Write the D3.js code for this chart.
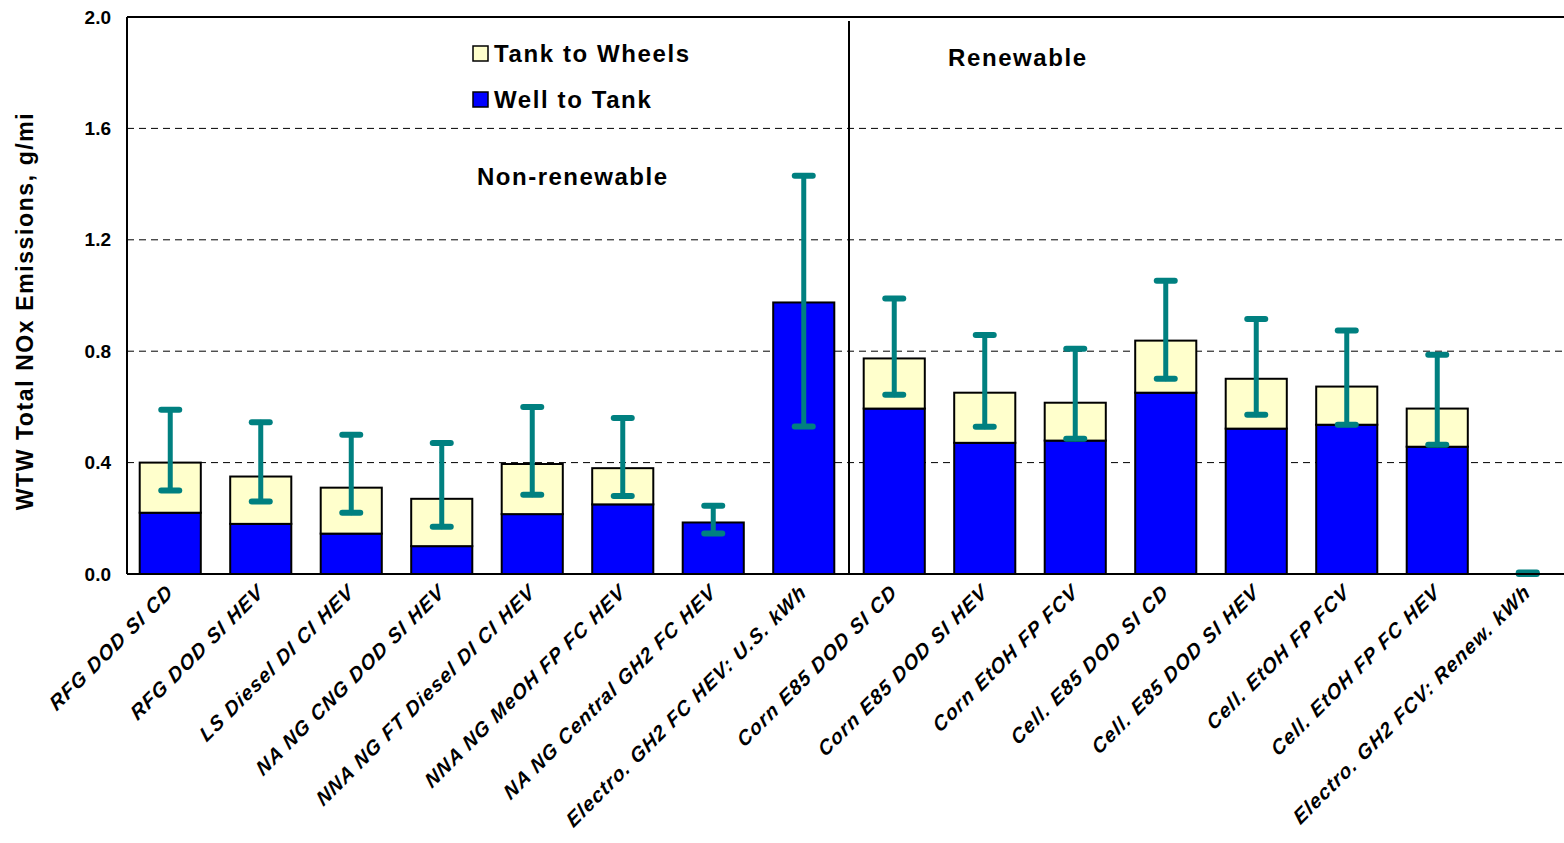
<!DOCTYPE html>
<html>
<head>
<meta charset="utf-8">
<script src="https://cdn.jsdelivr.net/npm/d3@7"></script>
<style>
  html, body { margin: 0; padding: 0; background: #fff; }
  svg { display: block; }
  text { font-family: "Liberation Sans", Arial, sans-serif; font-weight: bold; fill: #000; }
</style>
</head>
<body>
<svg id="chart" width="1564" height="843"></svg>
<script>
const categories = [
  "RFG DOD SI CD", "RFG DOD SI HEV", "LS Diesel DI CI HEV", "NA NG CNG DOD SI HEV",
  "NNA NG FT Diesel DI CI HEV", "NNA NG MeOH FP FC HEV", "NA NG Central GH2 FC HEV",
  "Electro. GH2 FC HEV: U.S. kWh", "Corn E85 DOD SI CD", "Corn E85 DOD SI HEV",
  "Corn EtOH FP FCV", "Cell. E85 DOD SI CD", "Cell. E85 DOD SI HEV", "Cell. EtOH FP FCV",
  "Cell. EtOH FP FC HEV", "Electro. GH2 FCV: Renew. kWh"
];
const wellToTank   = [0.22, 0.18, 0.145, 0.10, 0.215, 0.25, 0.185, 0.975, 0.594, 0.471, 0.479, 0.651, 0.522, 0.536, 0.457, 0.0];
const tankToWheels = [0.18, 0.17, 0.165, 0.17, 0.18, 0.13, 0.0, 0.0, 0.180, 0.180, 0.136, 0.187, 0.179, 0.137, 0.137, 0.0];
const errorLow     = [0.30, 0.26, 0.22, 0.17, 0.285, 0.28, 0.145, 0.53, 0.644, 0.529, 0.486, 0.701, 0.572, 0.536, 0.464, 0.0];
const errorHigh    = [0.59, 0.545, 0.50, 0.47, 0.60, 0.56, 0.245, 1.43, 0.989, 0.858, 0.809, 1.053, 0.916, 0.874, 0.787, 0.005];
const yTicks = [0.0, 0.4, 0.8, 1.2, 1.6, 2.0];
const seriesNames = ["Tank to Wheels", "Well to Tank"];
const groupLabels = ["Non-renewable", "Renewable"];

const svg = d3.select("#chart");
const plotLeft = 127, plotTop = 17, plotBottom = 574;

const x = d3.scaleBand().domain(categories).range([125, 1573]).padding(0);
const y = d3.scaleLinear().domain([0, 2.0]).range([plotBottom, plotTop]);
const barW = x.bandwidth() * 0.675;

// grid lines
svg.append("g").selectAll("line").data(yTicks.filter(t => t > 0 && t < 2))
  .join("line")
  .attr("x1", plotLeft).attr("x2", 1564)
  .attr("y1", d => y(d)).attr("y2", d => y(d))
  .attr("stroke", "#000").attr("stroke-width", 1).attr("stroke-dasharray", "7,5");

// divider between groups
const divX = x(categories[8]);
svg.append("line").attr("x1", divX).attr("x2", divX).attr("y1", 21).attr("y2", plotBottom)
  .attr("stroke", "#000").attr("stroke-width", 2);

// bars
const data = categories.map((c, i) => ({c, wtt: wellToTank[i], ttw: tankToWheels[i], lo: errorLow[i], hi: errorHigh[i]}));
const gBars = svg.append("g");
data.forEach(d => {
  const x0 = x(d.c) + (x.bandwidth() - barW) / 2;
  if (d.wtt > 0) {
    gBars.append("rect").attr("x", x0).attr("width", barW)
      .attr("y", y(d.wtt)).attr("height", y(0) - y(d.wtt))
      .attr("fill", "#0000FF").attr("stroke", "#000").attr("stroke-width", 2);
  }
  if (d.ttw > 0) {
    gBars.append("rect").attr("x", x0).attr("width", barW)
      .attr("y", y(d.wtt + d.ttw)).attr("height", y(d.wtt) - y(d.wtt + d.ttw))
      .attr("fill", "#FFFFCC").attr("stroke", "#000").attr("stroke-width", 2);
  }
});

// error bars
const gErr = svg.append("g").attr("stroke", "#008080").attr("stroke-linecap", "round");
data.forEach(d => {
  const cx = x(d.c) + x.bandwidth() / 2;
  gErr.append("line").attr("x1", cx).attr("x2", cx).attr("y1", y(d.hi)).attr("y2", y(d.lo)).attr("stroke-width", 5);
  [d.hi, d.lo].forEach(v => {
    gErr.append("line").attr("x1", cx - 9).attr("x2", cx + 9).attr("y1", y(v)).attr("y2", y(v)).attr("stroke-width", 6);
  });
});

// axes frame
svg.append("line").attr("x1", plotLeft).attr("x2", plotLeft).attr("y1", plotTop).attr("y2", plotBottom).attr("stroke", "#000").attr("stroke-width", 2);
svg.append("line").attr("x1", plotLeft).attr("x2", 1564).attr("y1", plotTop).attr("y2", plotTop).attr("stroke", "#000").attr("stroke-width", 2);
svg.append("line").attr("x1", plotLeft).attr("x2", 1564).attr("y1", plotBottom).attr("y2", plotBottom).attr("stroke", "#000").attr("stroke-width", 2);

// y tick labels
const yAxis = d3.axisLeft(y).tickValues(yTicks).tickFormat(d3.format(".1f")).tickSize(0).tickPadding(16);
const gy = svg.append("g").attr("transform", `translate(${plotLeft},0)`).call(yAxis);
gy.select(".domain").remove();
gy.selectAll("text").style("font-size", "19px").style("font-family", "'Liberation Sans', Arial, sans-serif").style("font-weight", "bold").attr("fill", "#000");

// y axis title
svg.append("text").attr("transform", `translate(33,${(110 + 512) / 2}) rotate(-90)`)
  .attr("text-anchor", "middle").style("font-size", "23px").style("letter-spacing", "1.6px")
  .text("WTW Total NOx Emissions, g/mi");

// x labels
svg.append("g").selectAll("text").data(categories).join("text")
  .attr("transform", d => `translate(${x(d) + x.bandwidth() / 2 + 4},${plotBottom + 20}) rotate(-45) skewX(-8)`)
  .attr("text-anchor", "end")
  .style("font-size", "20px").style("font-style", "italic").style("letter-spacing", "1.2px")
  .text(d => d);

// legend
const legendColors = ["#FFFFCC", "#0000FF"];
const legendY = [54, 100];
seriesNames.forEach((n, i) => {
  svg.append("rect").attr("x", 473).attr("y", legendY[i] - 8).attr("width", 15).attr("height", 15)
    .attr("fill", legendColors[i]).attr("stroke", "#000").attr("stroke-width", 1.5);
  svg.append("text").attr("x", 494).attr("y", legendY[i] + 8)
    .style("font-size", "24px").style("letter-spacing", "1.6px").text(n);
});

// group labels
svg.append("text").attr("x", 477).attr("y", 185).style("font-size", "24px").style("letter-spacing", "1.5px").text(groupLabels[0]);
svg.append("text").attr("x", 948).attr("y", 66).style("font-size", "24px").style("letter-spacing", "1.6px").text(groupLabels[1]);
</script>
</body>
</html>
